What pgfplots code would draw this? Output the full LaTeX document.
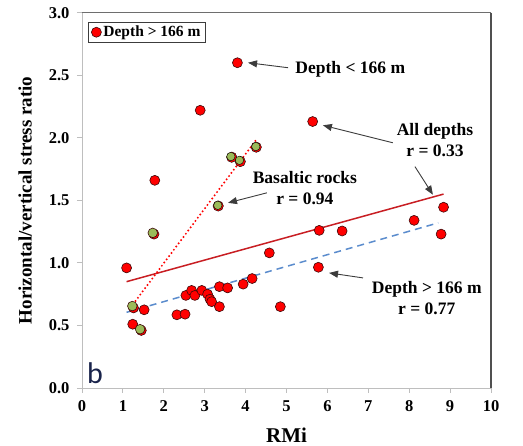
\documentclass[border=0pt]{standalone}
\usepackage{pgfplots}
\pgfplotsset{compat=1.18}
\usepackage{fontspec}
\setmainfont{Liberation Serif}
\newfontfamily\calibri{Carlito}
\usetikzlibrary{arrows.meta}
\definecolor{ptred}{RGB}{255,0,0}
\definecolor{ptedge}{RGB}{60,10,10}
\definecolor{basgreen}{RGB}{155,187,89}
\definecolor{linered}{RGB}{200,30,35}
\definecolor{lineblue}{RGB}{91,140,205}
\definecolor{arrowgray}{RGB}{60,60,60}
\definecolor{bnavy}{RGB}{25,35,75}
\definecolor{axgray}{RGB}{190,190,190}
\definecolor{framegray}{RGB}{110,110,110}

\begin{document}
\begin{tikzpicture}
\begin{axis}[
  name=ax, scale only axis, width=409pt, height=375.3pt,
  xmin=0, xmax=10, ymin=0, ymax=3,
  xtick={0,1,2,3,4,5,6,7,8,9,10}, ytick={0,0.5,1,1.5,2,2.5,3},
  xticklabels={\textbf{0},\textbf{1},\textbf{2},\textbf{3},\textbf{4},\textbf{5},\textbf{6},\textbf{7},\textbf{8},\textbf{9},\textbf{10}},
  yticklabels={\textbf{0.0},\textbf{0.5},\textbf{1.0},\textbf{1.5},\textbf{2.0},\textbf{2.5},\textbf{3.0}},
  axis x line*=bottom, axis y line*=left,
  axis line style={draw=axgray, line width=0.8pt},
  tick align=outside, major tick length=5pt,
  tick style={draw=axgray, line width=0.8pt},
  xticklabel style={font=\bfseries\fontsize{16.5}{18}\selectfont, yshift=-4pt},
  yticklabel style={font=\bfseries\fontsize{16.5}{18}\selectfont, xshift=-4pt},
  xlabel={RMi}, ylabel={Horizontal/vertical stress ratio},
  xlabel style={font=\bfseries\fontsize{21}{24}\selectfont, at={(axis description cs:0.5,-0.127)}, anchor=center},
  ylabel style={font=\bfseries\fontsize{19}{22}\selectfont, at={(axis description cs:-0.139,0.5)}, anchor=center},
  legend style={at={(axis description cs:0.0147,0.976)}, anchor=north west, draw=arrowgray, line width=0.8pt,
    font=\bfseries\fontsize{15.5}{17}\selectfont, inner xsep=3pt, inner ysep=2pt, row sep=0pt},
  legend cell align=left,
  clip=false,
]
% main data (red points)
\addplot[only marks, mark=*, mark size=5pt, mark options={fill=ptred, draw=ptedge, line width=0.6pt}] coordinates {
(3.80,2.60) (2.89,2.22) (5.64,2.13) (1.78,1.66) (1.09,0.96) (1.52,0.625) (1.24,0.51)
(2.32,0.585) (2.52,0.59) (2.54,0.74) (2.68,0.78) (2.76,0.74) (2.93,0.78) (3.07,0.75)
(3.13,0.71) (3.17,0.69) (3.36,0.65) (3.36,0.81) (3.56,0.80) (3.94,0.83) (4.16,0.875)
(4.58,1.08) (4.85,0.65) (5.78,0.965) (5.80,1.26) (6.36,1.255) (8.12,1.34) (8.84,1.445) (8.78,1.23)
};
\addlegendentry{Depth > 166 m}
% red points under the basaltic ones
\addplot[only marks, mark=*, mark size=5pt, mark options={fill=ptred, draw=ptedge, line width=0.6pt}, forget plot] coordinates {
(1.26,0.64) (1.45,0.46) (1.76,1.23)
};
\addplot[only marks, mark=*, mark size=5.2pt, mark options={fill=ptred, draw=none}, forget plot] coordinates {
(3.33,1.455) (3.66,1.845) (3.87,1.81) (4.26,1.925)
};
% basaltic rocks (green)
\addplot[only marks, mark=*, mark size=4.8pt, mark options={fill=basgreen, draw=ptedge, line width=0.6pt}, forget plot] coordinates {
(1.23,0.655) (1.42,0.47) (1.73,1.24)
};
\addplot[only marks, mark=*, mark size=4.2pt, mark options={fill=basgreen, draw=none}, forget plot] coordinates {
(3.32,1.46) (3.64,1.85) (3.85,1.82) (4.25,1.93)
};
% trend lines
\addplot[linered, line width=1.5pt, forget plot] coordinates {(1.09,0.85) (8.84,1.55)};
\addplot[lineblue, line width=1.5pt, dash pattern=on 7pt off 5pt, forget plot] coordinates {(1.09,0.605) (8.71,1.32)};
\addplot[ptred, line width=2.2pt, dash pattern=on 0pt off 4pt, line cap=round, forget plot] coordinates {(1.25,0.67) (4.25,1.98)};
% frame top and right
\draw[framegray, line width=0.9pt] (rel axis cs:0,1) -- (rel axis cs:1,1);
\draw[arrowgray!90, line width=1.1pt] (rel axis cs:1,1) -- (rel axis cs:1,0);
% annotations
\tikzset{ann/.style={font=\bfseries\fontsize{17.5}{21}\selectfont, align=center, inner sep=0pt},
         arr/.style={arrowgray, line width=0.9pt, -{Triangle[length=9pt,width=7pt]}}}
\node[ann] at (axis cs:6.56,2.55) {Depth < 166 m};
\draw[arr] (axis cs:5.04,2.56) -- (axis cs:4.06,2.60);
\node[ann] at (axis cs:8.63,1.98) {All depths\\r = 0.33};
\draw[arr] (axis cs:7.60,1.96) -- (axis cs:5.89,2.10);
\draw[arr] (axis cs:8.14,1.77) -- (axis cs:8.58,1.545);
\node[ann] at (axis cs:5.45,1.60) {Basaltic rocks\\r = 0.94};
\draw[arr] (axis cs:4.52,1.56) -- (axis cs:3.57,1.48);
\node[ann] at (axis cs:8.43,0.72) {Depth > 166 m\\r = 0.77};
\draw[arr] (axis cs:6.87,0.88) -- (axis cs:6.04,0.92);
\node[font=\calibri\fontsize{30}{34}\selectfont, text=bnavy, inner sep=0pt] at (axis cs:0.32,0.12) {b};
\end{axis}
\pgfresetboundingbox
\path[use as bounding box] ([shift={(-82pt,-58pt)}]ax.south west) rectangle ([shift={(32pt,12.7pt)}]ax.north east);
\end{tikzpicture}
\end{document}
